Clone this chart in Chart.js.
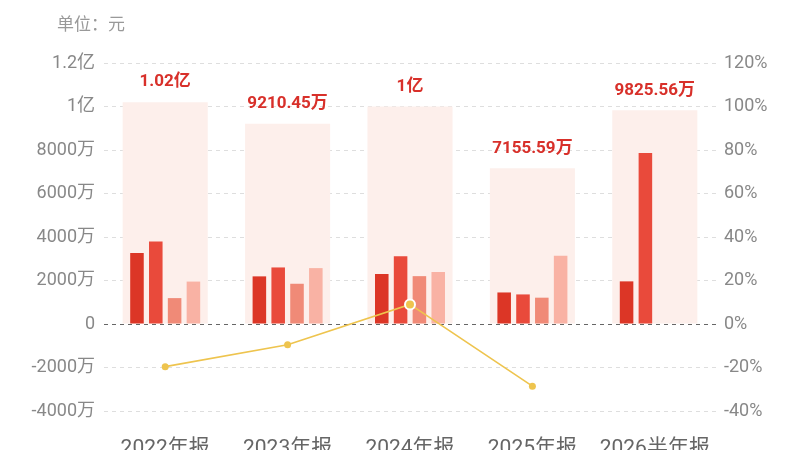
<!DOCTYPE html>
<html><head><meta charset="utf-8">
<script src="https://cdn.jsdelivr.net/npm/chart.js@4.4.0/dist/chart.umd.min.js"></script>
<style>
html,body{margin:0;padding:0;background:#fff;overflow:hidden;}
#wrap{position:relative;width:800px;height:450px;}
#unit{position:absolute;left:57px;top:10px;font:17px 'Noto Sans CJK SC',sans-serif;color:#999;}
canvas{display:block;}
</style></head><body>
<div id="wrap"><div id="unit">单位：元</div><canvas id="c" width="800" height="450" style="width:800px;height:450px"></canvas></div>
<script>
// values in 万元
const categories = ['2022年报','2023年报','2024年报','2025年报','2026半年报'];
const totals = [10200, 9210.45, 10000, 7155.59, 9825.56];
const totalLabels = ['1.02亿','9210.45万','1亿','7155.59万','9825.56万'];
const q1 = [3270, 2190, 2300, 1450, 1960];
const q2 = [3790, 2600, 3110, 1360, 7866];
const q3 = [1190, 1850, 2200, 1210, null];
const q4 = [1950, 2570, 2390, 3136, null];
const growth = [-19.6, -9.5, 9.0, -28.6, null];

const totalLabelPlugin = {
  id: 'totalLabels',
  afterDatasetsDraw(chart) {
    const meta = chart.getDatasetMeta(0);
    const ctx = chart.ctx;
    ctx.save();
    ctx.font = 'bold 17px Roboto, "Noto Sans CJK SC", sans-serif';
    ctx.fillStyle = '#d8302a';
    ctx.textAlign = 'center';
    ctx.textBaseline = 'middle';
    meta.data.forEach((el, i) => { ctx.fillText(totalLabels[i], el.x, el.y - 20); });
    ctx.restore();
  }
};

const tickFont = {family: 'Roboto, "Noto Sans CJK SC", sans-serif', size: 18};

new Chart(document.getElementById('c'), {
  data: {
    labels: categories,
    datasets: [
      {type: 'bar', data: totals, backgroundColor: '#fdefeb', grouped: false, categoryPercentage: 0.695, barPercentage: 1, order: 10, yAxisID: 'y'},
      {type: 'bar', data: q1, backgroundColor: '#dc3626', categoryPercentage: 0.615, barPercentage: 0.72, order: 5, yAxisID: 'y'},
      {type: 'bar', data: q2, backgroundColor: '#e94a3b', categoryPercentage: 0.615, barPercentage: 0.72, order: 5, yAxisID: 'y'},
      {type: 'bar', data: q3, backgroundColor: '#f08a77', categoryPercentage: 0.615, barPercentage: 0.72, order: 5, yAxisID: 'y'},
      {type: 'bar', data: q4, backgroundColor: '#f9b2a4', categoryPercentage: 0.615, barPercentage: 0.72, order: 5, yAxisID: 'y'},
      {type: 'line', data: growth, yAxisID: 'y1', order: 1, borderColor: '#eec44e', borderWidth: 1.6,
        pointRadius: [3.5, 3.5, 5, 3.5, 0], pointBackgroundColor: '#eec44e',
        pointBorderColor: ['#eec44e', '#eec44e', '#ffffff', '#eec44e', '#eec44e'],
        pointBorderWidth: [0, 0, 2, 0, 0], tension: 0, spanGaps: false}
    ]
  },
  options: {
    responsive: false,
    animation: false,
    devicePixelRatio: 1,
    layout: {padding: {top: 63, left: 0, right: 0, bottom: 0}},
    plugins: {legend: {display: false}, tooltip: {enabled: false}},
    scales: {
      x: {
        grid: {display: false},
        border: {display: false},
        ticks: {color: '#666', font: {family: 'Roboto, "Noto Sans CJK SC", sans-serif', size: 21}, padding: 17, maxRotation: 0},
        afterFit(s) { s.height = 39; }
      },
      y: {
        position: 'left', min: -4000, max: 12000,
        ticks: {stepSize: 2000, color: '#888', font: tickFont, padding: 9,
          callback: v => v === 0 ? '0' : (Math.abs(v) >= 10000 ? (v / 10000) + '亿' : v + '万')},
        grid: {drawTicks: false, color: c => c.tick && c.tick.value === 0 ? '#666' : '#dedede', lineWidth: 1},
        border: {display: false, dash: [4, 4]},
        afterFit(s) { s.width = 104; }
      },
      y1: {
        position: 'right', min: -40, max: 120,
        ticks: {stepSize: 20, color: '#888', font: tickFont, padding: 8, callback: v => v + '%'},
        grid: {display: false, drawTicks: false},
        border: {display: false},
        afterFit(s) { s.width = 84; }
      }
    }
  },
  plugins: [totalLabelPlugin]
});
</script>
</body></html>
